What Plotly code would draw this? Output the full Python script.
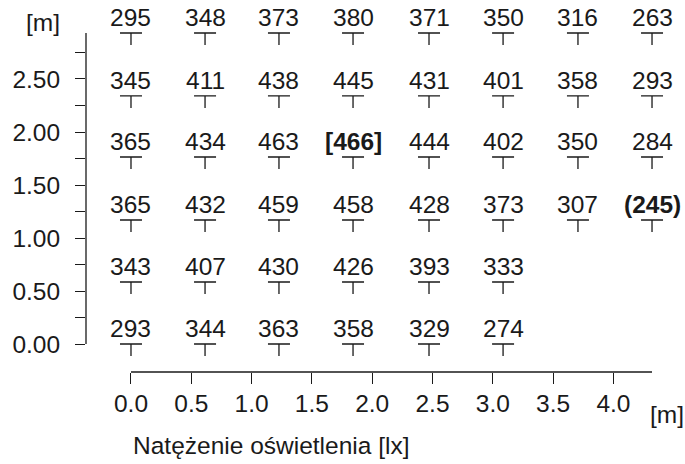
import plotly.graph_objects as go

# Measurement grid positions [m]
x_pos = [0.00, 0.614, 1.227, 1.841, 2.471, 3.085, 3.706, 4.320]
y_pos = [0.00, 0.585, 1.17, 1.764, 2.34, 2.934]

# Illuminance [lx], one list per row, bottom row first
row_0 = [293, 344, 363, 358, 329, 274]
row_1 = [343, 407, 430, 426, 393, 333]
row_2 = [365, 432, 459, 458, 428, 373, 307, 245]
row_3 = [365, 434, 463, 466, 444, 402, 350, 284]
row_4 = [345, 411, 438, 445, 431, 401, 358, 293]
row_5 = [295, 348, 373, 380, 371, 350, 316, 263]
rows = [row_0, row_1, row_2, row_3, row_4, row_5]

x_ticks = [0.0, 0.5, 1.0, 1.5, 2.0, 2.5, 3.0, 3.5, 4.0]
y_ticks = [0.0, 0.5, 1.0, 1.5, 2.0, 2.5]
y_minor = [0.25, 0.75, 1.25, 1.75, 2.25, 2.75]

FONT = "Liberation Sans, Arial, sans-serif"
INK = "#1a1a1a"
FS = 24.5

all_vals = [v for r in rows for v in r]
v_max, v_min = max(all_vals), min(all_vals)

fig = go.Figure()
shapes = []
annotations = []

for yi, row in zip(y_pos, rows):
    for xi, v in zip(x_pos, row):
        if v == v_max:
            label = f"<b>[{v}]</b>"
        elif v == v_min:
            label = f"<b>({v})</b>"
        else:
            label = str(v)
        annotations.append(dict(
            x=xi, y=yi, xref="x", yref="y", text=label, showarrow=False,
            xanchor="center", yanchor="bottom", yshift=0,
            font=dict(family=FONT, size=FS, color=INK),
        ))
        # T-shaped point marker: bar at the point, stem pointing down
        shapes.append(dict(
            type="path", xref="x", yref="y",
            xsizemode="pixel", ysizemode="pixel",
            xanchor=xi, yanchor=yi,
            path="M-11,0 L11,0 M0,0 L0,-12",
            line=dict(color=INK, width=1.3),
        ))

# Axis lines spanning only the measured extent
shapes.append(dict(type="line", xref="paper", yref="y", x0=0, x1=0,
                   y0=0, y1=max(y_pos), line=dict(color=INK, width=1.3)))
shapes.append(dict(type="line", xref="x", yref="paper", x0=0, x1=max(x_pos),
                   y0=0, y1=0, line=dict(color=INK, width=1.3)))

# Units and title
annotations.append(dict(x=-0.04, y=0.951, xref="paper", yref="paper", text="[m]",
                        showarrow=False, xanchor="right", yanchor="middle",
                        font=dict(family=FONT, size=FS, color=INK)))
annotations.append(dict(x=4.444, y=-0.117, xref="x", yref="paper", text="[m]",
                        showarrow=False, xanchor="center", yanchor="middle",
                        font=dict(family=FONT, size=FS, color=INK)))
annotations.append(dict(x=0.0, y=-0.199, xref="x", yref="paper",
                        text="Natężenie oświetlenia [lx]",
                        showarrow=False, xanchor="left", yanchor="middle",
                        font=dict(family=FONT, size=FS, color=INK)))

fig.update_layout(
    width=685, height=464,
    margin=dict(l=86, r=5, t=5, b=92),
    paper_bgcolor="white", plot_bgcolor="white",
    showlegend=False,
    shapes=shapes, annotations=annotations,
    font=dict(family=FONT, size=FS, color=INK),
)
fig.update_xaxes(
    range=[-0.373, 4.552], showgrid=False, zeroline=False, showline=False,
    tickmode="array", tickvals=x_ticks, tickformat=".1f",
    ticks="outside", ticklen=11, tickwidth=1.3, tickcolor=INK,
    ticklabelstandoff=-1,
    tickfont=dict(family=FONT, size=FS, color=INK),
)
fig.update_yaxes(
    range=[-0.264, 3.198], showgrid=False, zeroline=False, showline=False,
    tickmode="array", tickvals=y_ticks, tickformat=".2f",
    ticks="outside", ticklen=10, tickwidth=1.3, tickcolor=INK,
    ticklabelstandoff=10,
    minor=dict(tickmode="array", tickvals=y_minor, ticks="outside",
               ticklen=10, tickwidth=1.3, tickcolor=INK, showgrid=False),
    tickfont=dict(family=FONT, size=FS, color=INK),
)

fig.write_html("out.html")
